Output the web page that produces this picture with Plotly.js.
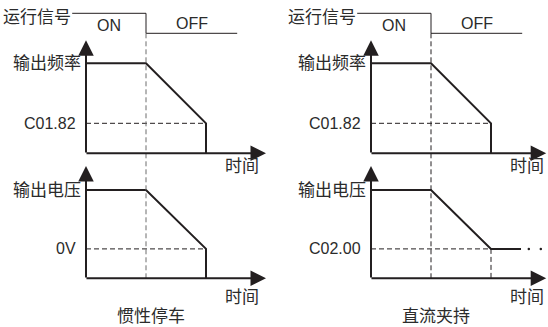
<!DOCTYPE html>
<html><head><meta charset="utf-8">
<script src="https://cdn.plot.ly/plotly-3.0.1.min.js"></script>
<style>html,body{margin:0;padding:0;background:#fff}#c{width:548px;height:327px}</style>
</head><body><div id="c"></div>
<script>
// ---- data (time in units of the decel ramp, levels in arbitrary units) ----
const columnTitles = ['惯性停车', '直流夹持'];
const signalT = [-0.23, 1, 1, 2.52];
const signalLevel = [1, 1, 0, 0];
const signalLabels = ['ON', 'OFF'];
const signalName = '运行信号';
const freqName = '输出频率';
const voltName = '输出电压';
const timeName = '时间';
const freqT = [0, 1, 2, 2];
const freqVal = [3, 3, 1, 0];
const freqLevelLabel = ['C01.82', 'C01.82'];
const freqLevel = 1;
const coastT = [0, 1, 2, 2];
const coastV = [3, 3, 1, 0];
const dcT = [0, 1, 2, 2.5];
const dcV = [3, 3, 1, 1];
const dcDotsT = [2.63, 2.83];
const voltLevelLabel = ['0V', 'C02.00'];
const voltLevel = 1;
const stopT = 1, rampEndT = 2;
const axisEndT = [3.0, 2.92];
const freqAxisTop = 3.77, voltAxisTop = 3.82;

// ---- layout geometry ----
const W = 548, H = 327;
const colOrigin = [86, 371], pxPerT = 60;
const tRange = [[-1.4, 3.0], [-1.4, 2.95]];
const rows = [
  {y0: 33.3, ppu: 20, range: [-0.4, 1.4]},   // signal
  {y0: 153.3, ppu: 30, range: [-0.3, 3.9]},  // frequency
  {y0: 278.3, ppu: 29.4, range: [-0.3, 3.9]} // voltage
];
const ink = '#231f20', txt = '#2b2b2b';
const fam = 'Liberation Sans, Arial, Noto Sans CJK SC, sans-serif';
const font = {family: fam, size: 16, color: txt};
const cjk = {family: fam, size: 17, color: txt};

const layout = {
  width: W, height: H, margin: {l: 0, r: 0, t: 0, b: 0},
  paper_bgcolor: '#fff', plot_bgcolor: 'rgba(0,0,0,0)', showlegend: false,
  font: font, annotations: [], shapes: []
};
const traces = [];
function ax(r, c) { return r * 2 + c + 1; }
function id(n) { return n === 1 ? '' : String(n); }

for (let c = 0; c < 2; c++) {
  for (let r = 0; r < 3; r++) {
    const n = ax(r, c), R = rows[r];
    layout['xaxis' + id(n)] = {visible: false, fixedrange: true, range: tRange[c],
      domain: [(colOrigin[c] + tRange[c][0] * pxPerT) / W, Math.min(1, (colOrigin[c] + tRange[c][1] * pxPerT) / W)],
      anchor: 'y' + id(n)};
    layout['yaxis' + id(n)] = {visible: false, fixedrange: true, range: R.range,
      domain: [1 - (R.y0 - R.range[0] * R.ppu) / H, 1 - (R.y0 - R.range[1] * R.ppu) / H],
      anchor: 'x' + id(n)};
  }
}
function pY(px) { return 1 - px / H; }

for (let c = 0; c < 2; c++) {
  const xs = 'x' + id(ax(0, c)), ys = 'y' + id(ax(0, c));
  const xf = 'x' + id(ax(1, c)), yf = 'y' + id(ax(1, c));
  const xv = 'x' + id(ax(2, c)), yv = 'y' + id(ax(2, c));
  // signal
  traces.push({type: 'scatter', mode: 'lines', x: signalT, y: signalLevel, xaxis: xs, yaxis: ys,
    line: {color: ink, width: 1}, cliponaxis: false, hoverinfo: 'skip'});
  layout.annotations.push({xref: xs, yref: ys, x: signalT[0], y: signalLevel[0], text: signalName,
    showarrow: false, xanchor: 'right', xshift: 1, yshift: -4, font: cjk});
  layout.annotations.push({xref: xs, yref: ys, x: (signalT[0] + stopT) / 2, y: 0.4, text: signalLabels[0],
    showarrow: false, font: font});
  layout.annotations.push({xref: xs, yref: ys, x: (stopT + signalT[3]) / 2, y: 0.5, text: signalLabels[1],
    showarrow: false, font: font});
  // stop dashed vertical across all
  layout.shapes.push({type: 'line', xref: xs, yref: 'paper', x0: stopT, x1: stopT,
    y0: pY(33.3), y1: pY(278.3), line: {color: c === 0 ? '#6d6d6d' : ink, width: 1, dash: '5px,3px'}});

  // frequency
  traces.push({type: 'scatter', mode: 'lines', x: [0, rampEndT], y: [freqLevel, freqLevel], xaxis: xf, yaxis: yf,
    line: {color: ink, width: 1, dash: '5px,3px'}, hoverinfo: 'skip'});
  traces.push({type: 'scatter', mode: 'lines', x: freqT, y: freqVal, xaxis: xf, yaxis: yf,
    line: {color: ink, width: 2}, cliponaxis: false, hoverinfo: 'skip'});
  // voltage
  traces.push({type: 'scatter', mode: 'lines', x: [0, rampEndT], y: [voltLevel, voltLevel], xaxis: xv, yaxis: yv,
    line: {color: ink, width: 1, dash: '5px,3px'}, hoverinfo: 'skip'});
  if (c === 0) {
    traces.push({type: 'scatter', mode: 'lines', x: coastT, y: coastV, xaxis: xv, yaxis: yv,
      line: {color: ink, width: 2}, cliponaxis: false, hoverinfo: 'skip'});
  } else {
    traces.push({type: 'scatter', mode: 'lines', x: [rampEndT, rampEndT], y: [voltLevel, 0], xaxis: xv, yaxis: yv,
      line: {color: ink, width: 1, dash: '5px,3px'}, hoverinfo: 'skip'});
    traces.push({type: 'scatter', mode: 'lines', x: dcT, y: dcV, xaxis: xv, yaxis: yv,
      line: {color: ink, width: 2}, cliponaxis: false, hoverinfo: 'skip'});
    traces.push({type: 'scatter', mode: 'markers', x: dcDotsT, y: dcDotsT.map(() => voltLevel), xaxis: xv, yaxis: yv,
      marker: {color: ink, size: 2.5}, cliponaxis: false, hoverinfo: 'skip'});
  }
  // axes with arrows
  [[xf, yf, freqAxisTop, freqName, freqVal[0], freqLevelLabel[c], freqLevel, -13],
   [xv, yv, voltAxisTop, voltName, coastV[0], voltLevelLabel[c], voltLevel, -19]].forEach(([xa, ya, top, name, vmax, lvlLbl, lvl, tshift]) => {
    layout.annotations.push({xref: xa, yref: ya, axref: xa, ayref: ya, x: 0, y: top, ax: 0, ay: -0.02,
      text: '', showarrow: true, arrowhead: 2, arrowsize: 1.55, arrowwidth: 2, arrowcolor: ink, standoff: 0});
    layout.annotations.push({xref: xa, yref: ya, axref: xa, ayref: ya, x: axisEndT[c], y: 0, ax: -0.017, ay: 0,
      text: '', showarrow: true, arrowhead: 2, arrowsize: 1.55, arrowwidth: 2, arrowcolor: ink, standoff: 0});
    layout.annotations.push({xref: xa, yref: ya, x: 0, y: vmax, text: name, showarrow: false,
      xanchor: 'right', xshift: -3, font: cjk});
    layout.annotations.push({xref: xa, yref: ya, x: 0, y: lvl, text: lvlLbl, showarrow: false,
      xanchor: 'right', xshift: -8, font: font});
    layout.annotations.push({xref: xa, yref: ya, x: 2.6, y: 0, text: timeName, showarrow: false,
      yshift: tshift, font: cjk});
  });
  layout.annotations.push({xref: xv, yref: 'paper', x: 1.08, y: 0, yanchor: 'bottom', yshift: -1,
    text: columnTitles[c], showarrow: false, font: cjk});
}

Plotly.newPlot('c', traces, layout, {staticPlot: true, displayModeBar: false});
</script></body></html>
